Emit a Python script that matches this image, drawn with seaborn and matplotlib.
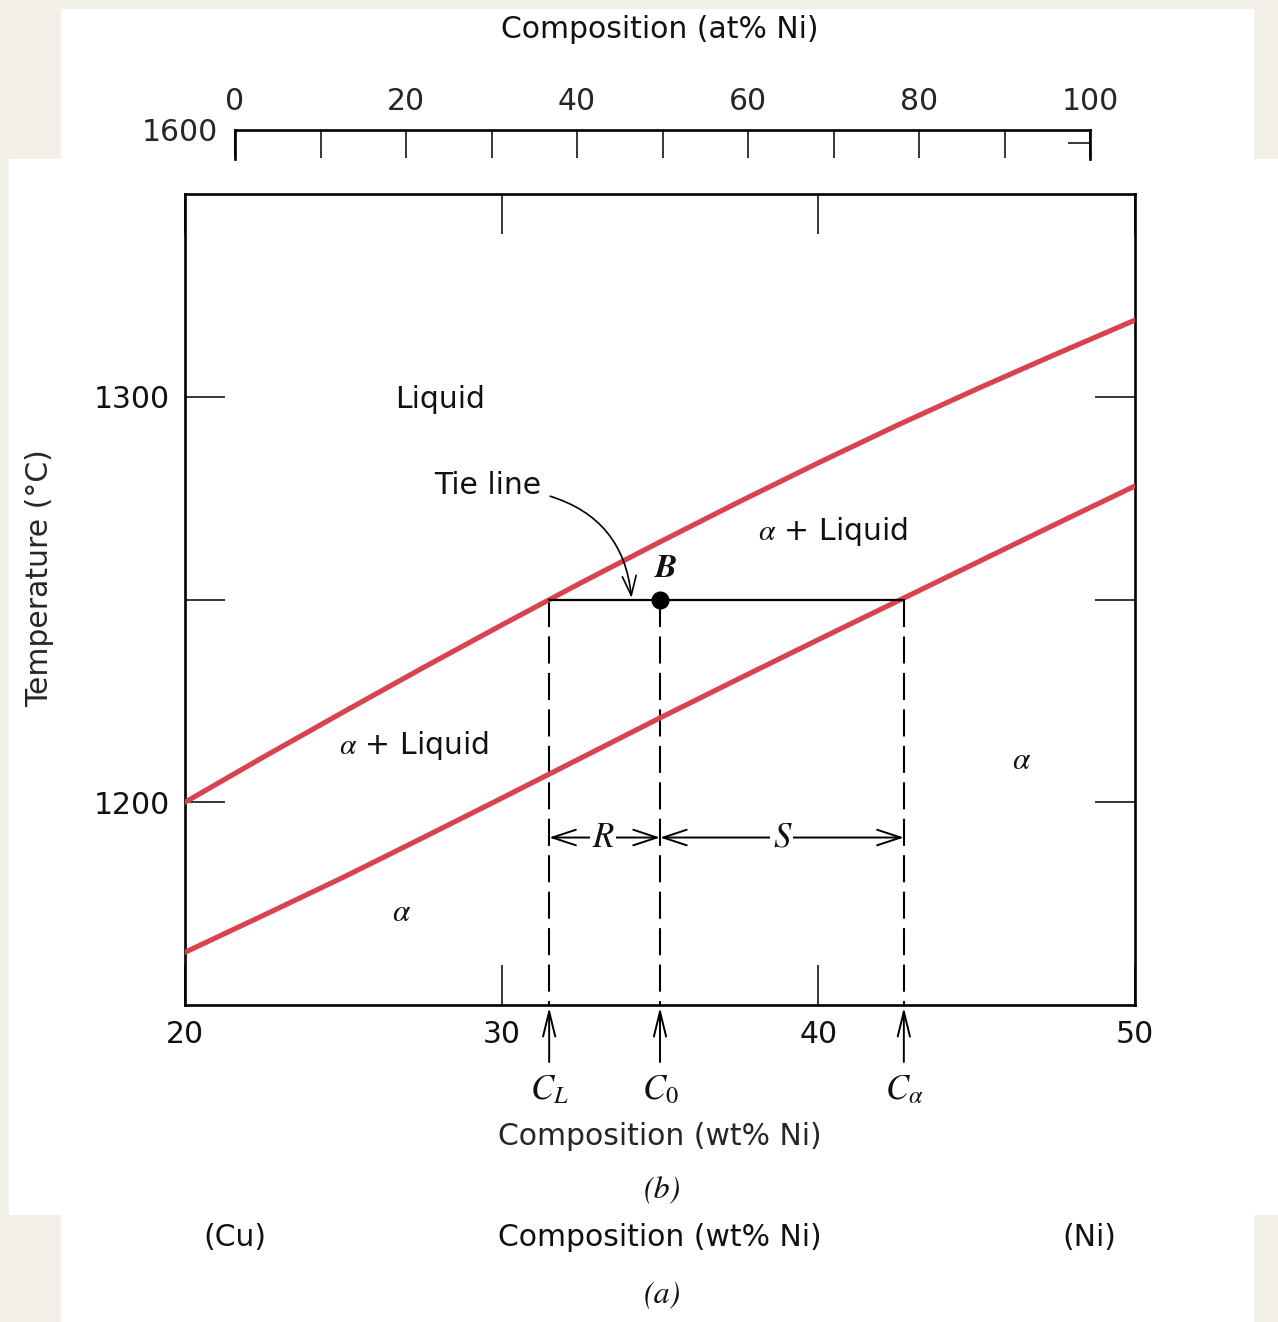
import numpy as np
import pandas as pd
import matplotlib
matplotlib.use("Agg")
import matplotlib.pyplot as plt
from matplotlib.patches import Rectangle
import seaborn as sns

# ---------------- data ----------------
comp_wt = [20, 22.5, 25, 27.5, 30, 32.5, 35, 37.5, 40, 42.5, 45, 47.5, 50]
liquidus_T = [1200, 1211.25, 1222.25, 1233.1, 1243.7, 1254.1, 1264.2,
              1274.1, 1283.7, 1293.0, 1301.9, 1310.5, 1318.9]
solidus_T = [1163, 1172.2, 1181.5, 1191.2, 1201, 1210.9, 1220.8,
             1230.5, 1240.1, 1249.6, 1259.1, 1268.6, 1278]
tie_T = 1250
C_L = 31.5
C_0 = 35
C_alpha = 42.7
bracket_T = 1191.3
T_min, T_max = 1150, 1350
wt_ticks = [20, 30, 40, 50]
wt_ticklabels = ["20", "30", "40", "50"]
T_ticks = [1200, 1250, 1300]
T_ticklabels = ["1200", "", "1300"]
at_ticks = [0, 10, 20, 30, 40, 50, 60, 70, 80, 90, 100]
at_ticklabels = ["0", "", "20", "", "40", "", "60", "", "80", "", "100"]
at_T_ticks = [1600]
at_T_ticklabels = ["1600"]

RED = "#D9434F"
W, H = 1278, 1322

sns.set_theme(style="white")
plt.rcParams["font.family"] = ["DejaVu Sans"]
plt.rcParams["mathtext.fontset"] = "stix"
plt.rcParams["text.color"] = "#111111"
FS = 21.5
SERIF = "STIXGeneral"

fig = plt.figure(figsize=(W / 100, H / 100), dpi=100, facecolor="#F2EFE9")


def fx(px):
    return px / W


def fy(py):
    return 1 - py / H


# white panels
for (x0, y0, x1, y1) in [(61, 9, 1254, 159), (9, 159, 1278, 1215), (61, 1215, 1254, 1322)]:
    fig.patches.append(Rectangle((fx(x0), fy(y1)), fx(x1) - fx(x0), fy(y0) - fy(y1),
                                 transform=fig.transFigure, facecolor="white",
                                 edgecolor="none", zorder=-5))

# ---------------- main axes (b) ----------------
ax = fig.add_axes([fx(185), fy(1005), fx(1135) - fx(185), fy(194) - fy(1005)])
ax.set_facecolor("white")
df = pd.DataFrame({
    "comp": comp_wt + comp_wt,
    "T": liquidus_T + solidus_T,
    "curve": ["Liquidus"] * len(comp_wt) + ["Solidus"] * len(comp_wt),
})
sns.lineplot(data=df, x="comp", y="T", hue="curve", palette=[RED, RED],
             linewidth=3.7, legend=False, ax=ax, sort=False, zorder=3)

# tie line, point B, dashed drop lines
ax.plot([C_L, C_alpha], [tie_T, tie_T], color="black", lw=1.6, zorder=4)
for c in [C_L, C_0, C_alpha]:
    ax.plot([c, c], [tie_T, T_min], color="black", lw=1.5,
            linestyle=(0, (13, 4.5)), zorder=2)
ax.plot([C_0], [tie_T], marker="o", ms=12, color="black", zorder=5)

# R and S brackets
aprops = dict(arrowstyle="<->,head_length=0.85,head_width=0.28", lw=1.4,
              color="black", shrinkA=0, shrinkB=0, mutation_scale=20)
ax.annotate("", xy=(C_L, bracket_T), xytext=(C_0, bracket_T), arrowprops=aprops, zorder=4)
ax.annotate("", xy=(C_0, bracket_T), xytext=(C_alpha, bracket_T), arrowprops=aprops, zorder=4)
ax.text((C_L + C_0) / 2 - 0.05, bracket_T, "R", family=SERIF, style="italic", fontsize=25,
        ha="center", va="center", zorder=6,
        bbox=dict(facecolor="white", edgecolor="none", pad=2))
ax.text(38.85, bracket_T, "S", family=SERIF, style="italic", fontsize=25,
        ha="center", va="center", zorder=6,
        bbox=dict(facecolor="white", edgecolor="none", pad=2))

# region labels
ax.text(28.05, 1299.3, "Liquid", fontsize=FS, ha="center", va="center")
ax.text(40.46, 1266.8, r"$\alpha$ + Liquid", fontsize=FS, ha="center", va="center")
ax.text(27.23, 1214.1, r"$\alpha$ + Liquid", fontsize=FS, ha="center", va="center")
ax.text(46.43, 1210.4, r"$\alpha$", fontsize=FS + 1, ha="center", va="center")
ax.text(26.85, 1172.8, r"$\alpha$", fontsize=FS + 1, ha="center", va="center")
ax.text(35.2, 1257.6, "B", family=SERIF, style="italic", weight="bold", fontsize=24,
        ha="center", va="center")
ax.annotate("Tie line", xy=(34.1, 1250.4), xytext=(29.57, 1278.2), fontsize=FS,
            ha="center", va="center",
            arrowprops=dict(arrowstyle="->,head_length=0.7,head_width=0.25", lw=1.2,
                            color="black", connectionstyle="arc3,rad=-0.35",
                            shrinkA=4, shrinkB=0, mutation_scale=20,
                            relpos=(1.0, 0.2)))

# composition arrows below axis
xt = ax.get_xaxis_transform()
for c, lab in [(C_L, r"$C_L$"), (C_0, r"$C_0$"), (C_alpha, r"$C_{\alpha}$")]:
    ax.annotate("", xy=(c, -0.003), xycoords=xt, xytext=(c, -0.0703), textcoords=xt,
                arrowprops=dict(arrowstyle="->,head_length=0.9,head_width=0.22", lw=1.4,
                                color="black", shrinkA=0, shrinkB=0, mutation_scale=20),
                annotation_clip=False)
    ax.text(c, -0.1159, lab, transform=xt, fontsize=25, ha="center", va="baseline")

ax.set_xlim(20, 50)
ax.set_ylim(T_min, T_max)
ax.set_xticks(wt_ticks, wt_ticklabels)
ax.set_yticks(T_ticks, T_ticklabels)
ax.tick_params(axis="both", direction="in", length=29, width=1.1, color="black",
               bottom=True, left=True, top=True, right=True,
               labelsize=FS, labelcolor="#111111")
ax.tick_params(axis="x", pad=11)
ax.tick_params(axis="y", pad=11)
for s in ax.spines.values():
    s.set_linewidth(1.9)
    s.set_color("black")
ax.set_xlabel("Composition (wt% Ni)", fontsize=FS)
ax.xaxis.set_label_coords(0.5, -(1122 - 1005) / 811)
ax.set_ylabel("Temperature (\u00b0C)", fontsize=FS)
ax.yaxis.set_label_coords((54 - 185) / 950, (1005 - 578) / 811)

# ---------------- top (a) at% axis fragment ----------------
ax2 = fig.add_axes([fx(235), fy(159), fx(1090) - fx(235), fy(130) - fy(159)], facecolor="none")
ax2.set_xlim(0, 100)
ax2.set_ylim(1590, 1600)
ax2.spines["bottom"].set_visible(False)
for s in ["top", "left", "right"]:
    ax2.spines[s].set_linewidth(1.9)
    ax2.spines[s].set_color("black")
ax2.set_xticks(at_ticks, at_ticklabels)
ax2.tick_params(axis="x", direction="in", length=20, width=1.1, color="black",
                top=True, bottom=False, labeltop=True, labelbottom=False,
                labelsize=FS, pad=10)
ax2.set_yticks(at_T_ticks, at_T_ticklabels)
ax2.set_yticks([1595.5], [""], minor=True)
ax2.tick_params(axis="y", which="major", left=True, right=False, length=0,
                labelsize=FS, pad=12)
ax2.tick_params(axis="y", which="minor", left=False, right=True, direction="in",
                length=16, width=1.1, color="black")
ax2.grid(False)

fig.text(fx(660), fy(30), "Composition (at% Ni)", fontsize=FS, ha="center", va="center")

# ---------------- captions ----------------
fig.text(fx(662), fy(1191), "(b)", family=SERIF, style="italic", fontsize=23,
         ha="center", va="center")
fig.text(fx(235), fy(1237), "(Cu)", fontsize=FS, ha="center", va="center")
fig.text(fx(660), fy(1237), "Composition (wt% Ni)", fontsize=FS, ha="center", va="center")
fig.text(fx(1089), fy(1237), "(Ni)", fontsize=FS, ha="center", va="center")
fig.text(fx(662), fy(1295), "(a)", family=SERIF, style="italic", fontsize=23,
         ha="center", va="center")

fig.savefig("out.png", dpi=100, facecolor=fig.get_facecolor())
